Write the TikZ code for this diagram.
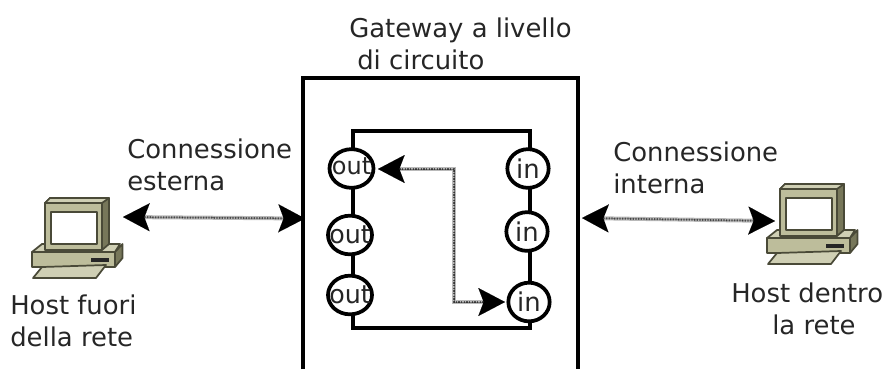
\documentclass[tikz,border=0pt]{standalone}
\usepackage{fontspec}
\setmainfont{DejaVu Sans}
\usetikzlibrary{arrows.meta,shapes.geometric}
\definecolor{pcline}{HTML}{4A4A38}
\definecolor{pcfront}{HTML}{BDBD9B}
\definecolor{pclight}{HTML}{CFCFB4}
\definecolor{pcdark}{HTML}{77775A}
\definecolor{lnk}{HTML}{8A8A8A}
\tikzset{
  x=0.75pt,y=-0.75pt,
  wall/.style={line width=3pt,black,line cap=rect},
  port/.style={ellipse,draw=black,line width=2.8pt,fill=white,inner sep=0pt,minimum width=33pt,minimum height=29pt},
  porttext/.style={text=black!85,inner sep=0pt},
  lbl/.style={anchor=base west,inner sep=0pt,text=black!85,font=\fontsize{19.4pt}{20pt}\selectfont},
  bigtip/.style={{Stealth[length=20pt,width=21pt,inset=4pt,black]}-{Stealth[length=20pt,width=21pt,inset=4pt,black]}},
  lnkbase/.style={line width=3pt,lnk!60,shorten >=10pt,shorten <=10pt},
  lnkdots/.style={line width=1.5pt,lnk!60!black,dash pattern=on 1pt off 1pt,shorten >=10pt,shorten <=10pt},
  pcedge/.style={draw=pcline,line width=1.3pt,line join=round},
  pc/.pic={
    \draw[pcedge,fill=pcdark] (45,203)--(50,198)--(109,198)--(109,245)--(102,250)--cycle;
    \draw[pcedge,fill=pclight] (45,203)--(50,198)--(109,198)--(102,203)--cycle;
    \draw[pcedge,fill=pcfront] (45,203) rectangle (102,250);
    \draw[pcedge,fill=white] (51,212) rectangle (97,244);
    \draw[pcedge,fill=pclight] (32,252)--(42,244)--(45,244)--(45,250)--(102,250)--(109,244)--(120,244)--(115,252)--cycle;
    \draw[pcedge,fill=pcdark] (115,252)--(122.5,244)--(122.5,258)--(115,267)--cycle;
    \draw[pcedge,fill=pcfront] (32,252) rectangle (115,267);
    \fill[black!85] (91,257.5) rectangle (109,261.5);
    \draw[pcedge,fill=pclight] (42,267)--(106,265)--(96,278)--(33,278)--cycle;
  }
}
\begin{document}
\begin{tikzpicture}
\useasboundingbox (0,0) rectangle (885,369);
\coordinate (wallNW) at (303,78);
\coordinate (wallNE) at (578,78);
\coordinate (wallSW) at (303,369);
\coordinate (wallSE) at (578,369);
\draw[wall,line cap=butt] (wallSW)--(wallNW)--(wallNE)--(wallSE);
\coordinate (boxNW) at (353,131);
\coordinate (boxNE) at (530,131);
\coordinate (boxSE) at (530,328);
\coordinate (boxSW) at (353,328);
\draw[line width=3pt,black] (boxNW)--(boxNE)--(boxSE)--(boxSW)--cycle;
\node[port,minimum width=33pt,label={[porttext,font=\fontsize{18pt}{18pt}\selectfont,yshift=1.5pt]center:out}] (o1) at (351.5,168.5) {};
\node[port,minimum width=33pt,label={[porttext,font=\fontsize{19pt}{18pt}\selectfont]center:out}] (o2) at (350,235) {};
\node[port,minimum width=33pt,label={[porttext,font=\fontsize{19pt}{18pt}\selectfont]center:out}] (o3) at (350,295) {};
\node[port,minimum width=31pt,label={[porttext,font=\fontsize{19.4pt}{18pt}\selectfont]center:in}] (i1) at (528,168.5) {};
\node[port,minimum width=31pt,label={[porttext,font=\fontsize{19.4pt}{18pt}\selectfont]center:in}] (i2) at (527,231.5) {};
\node[port,minimum width=31pt,label={[porttext,font=\fontsize{19.4pt}{18pt}\selectfont]center:in}] (i3) at (529,302) {};
\pic at (0,0) {pc};
\pic at (735,-14) {pc};
\coordinate (pcL) at (123,217);
\coordinate (wallL) at (305,218.5);
\coordinate (wallR) at (582,218);
\coordinate (pcR) at (775,221);
\coordinate (bendA) at (454,169);
\coordinate (bendB) at (454,302);
\coordinate (tipO) at (378,169);
\coordinate (tipI) at (505,302);
\foreach \a/\b in {pcL/wallL,wallR/pcR}{
  \draw[lnkbase] (\a)--(\b);
  \draw[lnkdots] (\a)--(\b);
  \draw[bigtip,line width=0.01pt,draw=black] (\a)--(\b);
}
\draw[lnkbase,line width=2.5pt] (tipO)--(bendA)--(bendB)--(tipI);
\draw[lnkdots] (tipO)--(bendA)--(bendB)--(tipI);
\draw[bigtip,line width=0.01pt,draw=black] (tipO)--(bendA)--(bendB)--(tipI);
\node[lbl] (gw1) at (349,37) {Gateway a livello};
\node[lbl] (gw2) at (357,69) {di circuito};
\node[lbl] (ce1) at (127,158) {Connessione};
\node[lbl] (ce2) at (127,190) {esterna};
\node[lbl] (ci1) at (613,161) {Connessione};
\node[lbl] (ci2) at (613,193) {interna};
\node[lbl] (hf1) at (10,314) {Host fuori};
\node[lbl] (hf2) at (10,346) {della rete};
\node[lbl] (hd1) at (731,302) {Host dentro};
\node[lbl] (hd2) at (772,334) {la rete};
\end{tikzpicture}
\end{document}
